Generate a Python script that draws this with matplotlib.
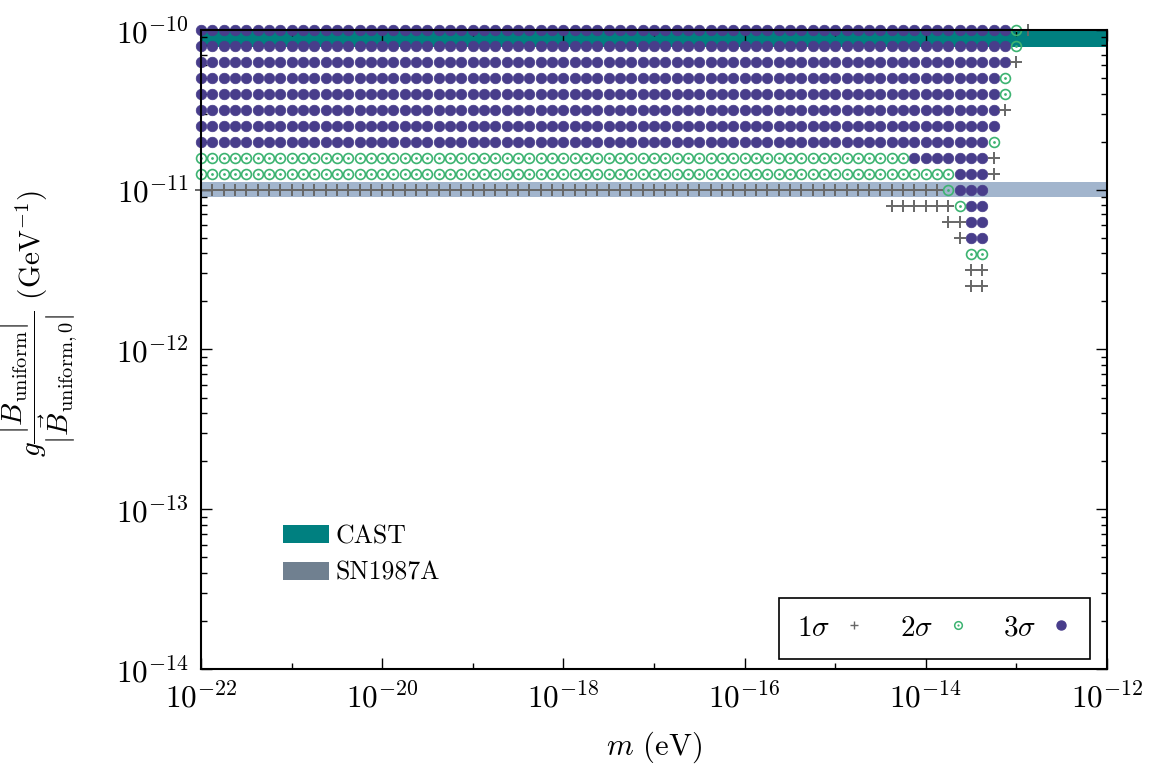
import numpy as np
import matplotlib
matplotlib.use("Agg")
import matplotlib.pyplot as plt
from matplotlib.lines import Line2D
from matplotlib.patches import Patch
from matplotlib.legend_handler import HandlerTuple
from matplotlib.ticker import NullFormatter

plt.rcParams["font.family"] = "serif"
plt.rcParams["font.serif"] = ["cmr10", "DejaVu Serif"]
plt.rcParams["mathtext.fontset"] = "cm"
plt.rcParams["axes.formatter.use_mathtext"] = True
plt.rcParams["axes.unicode_minus"] = False

# Scan grid: log10 of mass (columns) and log10 of coupling (rows)
log_m_start = -22.0
log_m_step = 0.125
log_g_rows = [-10.0, -10.1, -10.2, -10.3, -10.4, -10.5, -10.6, -10.7, -10.8,
              -10.9, -11.0, -11.1, -11.2, -11.3, -11.4, -11.5, -11.6]

# Significance reached at each grid cell, one string per row
# ('.' = none, '1' = 1 sigma, '2' = 2 sigma, '3' = 3 sigma)
significance_rows = [
    "3" * 72 + "2" + "1",
    "3" * 72 + "2",
    "3" * 72 + "1",
    "3" * 71 + "2",
    "3" * 71 + "2",
    "3" * 71 + "1",
    "3" * 71,
    "3" * 70 + "2",
    "2" * 63 + "3" * 7 + "1",
    "2" * 67 + "3" * 3 + "1",
    "1" * 66 + "2" + "3" * 3,
    "." * 61 + "1" * 6 + "2" + "3" * 2,
    "." * 66 + "1" * 2 + "3" * 2,
    "." * 67 + "1" + "3" * 2,
    "." * 68 + "2" * 2,
    "." * 68 + "1" * 2,
    "." * 68 + "1" * 2,
]

# Excluded coupling bands (GeV^-1)
cast_band = [7.8e-11, 1.0e-10]
sn1987a_band = [8.95e-12, 1.12e-11]

x_major_ticks = [1e-22, 1e-20, 1e-18, 1e-16, 1e-14, 1e-12]
x_minor_ticks = [1e-21, 1e-19, 1e-17, 1e-15, 1e-13]
y_major_ticks = [1e-14, 1e-13, 1e-12, 1e-11, 1e-10]
y_minor_ticks = [k * 10.0 ** e for e in range(-14, -10) for k in range(2, 10)]


def collect(level):
    ms, gs = [], []
    for lg, row in zip(log_g_rows, significance_rows):
        for c, ch in enumerate(row):
            if ch == level:
                ms.append(10 ** (log_m_start + log_m_step * c))
                gs.append(10 ** lg)
    return np.array(ms), np.array(gs)


c_dot = "#483d8b"
c_ring = "#3cb371"
c_plus = "#676767"
c_cast = "#008080"
c_sn_fill = "#a2b5cd"
c_sn_patch = "#708090"

fig = plt.figure(figsize=(11.53, 7.65), dpi=100)
ax = fig.add_axes([0.1743, 0.1255, 0.7858, 0.8353])
ax.set_xscale("log")
ax.set_yscale("log")
ax.set_xlim(1e-22, 1e-12)
ax.set_ylim(1e-14, 1e-10)

ax.axhspan(cast_band[0], cast_band[1], color=c_cast, lw=0, zorder=0.5)
ax.axhspan(sn1987a_band[0], sn1987a_band[1], color=c_sn_fill, lw=0, zorder=0.5)

m1, g1 = collect("1")
m2, g2 = collect("2")
m3, g3 = collect("3")

ms_dot = 7.6
ax.plot(m3, g3, ls="none", marker="o", ms=ms_dot, mfc=c_dot, mec=c_dot,
        mew=0.5, clip_on=False, zorder=2)
ax.plot(m2, g2, ls="none", marker="o", ms=ms_dot - 0.5, mfc="none",
        mec=c_ring, mew=1.2, clip_on=False, zorder=2)
ax.plot(m2, g2, ls="none", marker="o", ms=2.0, mfc=c_ring, mec=c_ring,
        mew=0, clip_on=False, zorder=2)
ax.plot(m1, g1, ls="none", marker="+", ms=8, mec=c_plus, mew=1.4,
        clip_on=False, zorder=2)

ax.set_xticks(x_major_ticks)
ax.set_xticks(x_minor_ticks, minor=True)
ax.set_yticks(y_major_ticks)
ax.set_yticks(y_minor_ticks, minor=True)
ax.xaxis.set_minor_formatter(NullFormatter())
ax.yaxis.set_minor_formatter(NullFormatter())

ax.tick_params(which="both", direction="in", top=True, right=True,
               labelsize=22.5, width=1.0)
ax.tick_params(which="major", length=8)
ax.tick_params(axis="x", which="major", pad=9)
ax.tick_params(axis="y", which="major", pad=9)
ax.tick_params(which="minor", length=4.5)
for sp in ax.spines.values():
    sp.set_linewidth(1.5)

ax.set_xlabel(r"$m$ (eV)", fontsize=22, labelpad=12)
ax.set_ylabel(r"$g\dfrac{|\vec{B}_{\rm uniform}|}{|\vec{B}_{\rm uniform,0}|}$ (GeV$^{-1}$)",
              fontsize=21)
ax.yaxis.set_label_coords(-0.134, 0.54)

band_handles = [Patch(facecolor=c_cast, edgecolor="none"),
                Patch(facecolor=c_sn_patch, edgecolor="none")]
leg1 = ax.legend(band_handles, ["CAST", "SN1987A"], loc="upper left",
                 bbox_to_anchor=(0.0905, 0.226), frameon=False, fontsize=18.5,
                 handlelength=1.8, handleheight=0.7, handletextpad=0.25,
                 labelspacing=0.5, borderpad=0, borderaxespad=0)
ax.add_artist(leg1)

h_plus = Line2D([], [], ls="none", marker="+", ms=6, mec=c_plus, mew=1.0)
h_ring = (Line2D([], [], ls="none", marker="o", ms=5.5, mfc="none", mec=c_ring, mew=1.1),
          Line2D([], [], ls="none", marker="o", ms=1.6, mfc=c_ring, mec=c_ring, mew=0))
h_dot = Line2D([], [], ls="none", marker="o", ms=6.5, mfc=c_dot, mec=c_dot)
leg2 = ax.legend([h_plus, h_ring, h_dot], [r"$1\sigma$", r"$2\sigma$", r"$3\sigma$"],
                 loc="lower right", bbox_to_anchor=(0.981, 0.0156),
                 ncol=3, markerfirst=False, fontsize=21,
                 handlelength=0.8, handletextpad=0.45, columnspacing=1.15,
                 fancybox=False, edgecolor="black", framealpha=1,
                 borderpad=0.6, borderaxespad=0,
                 handler_map={tuple: HandlerTuple(ndivide=1)})
leg2.get_frame().set_linewidth(1.2)

fig.savefig("out.png", dpi=100)
